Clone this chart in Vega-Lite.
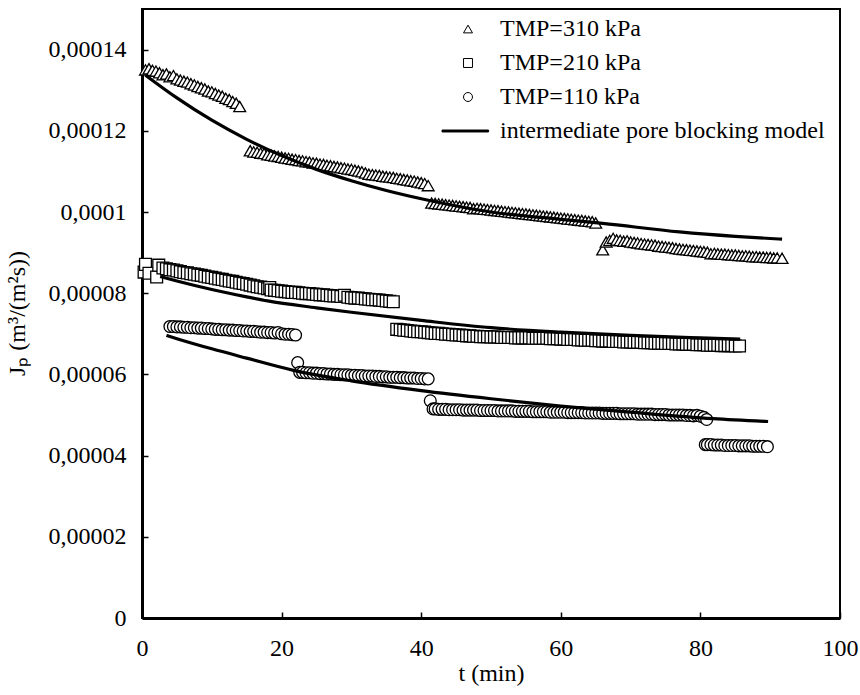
{
"$schema":"https://vega.github.io/schema/vega-lite/v6.json",
"width":698,"height":609,
"autosize":{"type":"none"},
"padding":{"left":142,"top":9,"right":20,"bottom":68},
"background":"white",
"config":{"view":{"stroke":"black","strokeWidth":2},"font":"Liberation Serif"},
"datasets":{
"pts":[
{"s":"310","t":0.5,"J":0.0001350},{"s":"310","t":1.0,"J":0.0001353},{"s":"310","t":1.5,"J":0.0001349},{"s":"310","t":2.0,"J":0.0001347},{"s":"310","t":2.5,"J":0.0001343},{"s":"310","t":3.0,"J":0.0001338},{"s":"310","t":3.5,"J":0.0001340},{"s":"310","t":4.0,"J":0.0001333},{"s":"310","t":4.5,"J":0.0001336},{"s":"310","t":5.0,"J":0.0001328},{"s":"310","t":5.5,"J":0.0001325},{"s":"310","t":6.0,"J":0.0001322},{"s":"310","t":6.5,"J":0.0001320},{"s":"310","t":7.0,"J":0.0001316},{"s":"310","t":7.5,"J":0.0001313},{"s":"310","t":8.0,"J":0.0001309},{"s":"310","t":8.5,"J":0.0001306},{"s":"310","t":9.0,"J":0.0001303},{"s":"310","t":9.5,"J":0.0001298},{"s":"310","t":10.0,"J":0.0001296},{"s":"310","t":10.5,"J":0.0001292},{"s":"310","t":11.0,"J":0.0001288},{"s":"310","t":11.5,"J":0.0001285},{"s":"310","t":12.0,"J":0.0001280},{"s":"310","t":12.5,"J":0.0001277},{"s":"310","t":13.0,"J":0.0001272},{"s":"310","t":13.5,"J":0.0001268},{"s":"310","t":14.0,"J":0.0001260},
{"s":"310","t":15.5,"J":0.0001151},{"s":"310","t":16.0,"J":0.0001148},{"s":"310","t":16.5,"J":0.0001147},{"s":"310","t":17.0,"J":0.0001145},{"s":"310","t":17.5,"J":0.0001144},{"s":"310","t":18.0,"J":0.0001141},{"s":"310","t":18.5,"J":0.0001140},{"s":"310","t":19.0,"J":0.0001138},{"s":"310","t":19.5,"J":0.0001137},{"s":"310","t":20.0,"J":0.0001135},{"s":"310","t":20.5,"J":0.0001133},{"s":"310","t":21.0,"J":0.0001132},{"s":"310","t":21.5,"J":0.0001130},{"s":"310","t":22.0,"J":0.0001129},{"s":"310","t":22.5,"J":0.0001127},{"s":"310","t":23.0,"J":0.0001126},{"s":"310","t":23.5,"J":0.0001124},{"s":"310","t":24.0,"J":0.0001123},{"s":"310","t":24.5,"J":0.0001121},{"s":"310","t":25.0,"J":0.0001120},{"s":"310","t":25.5,"J":0.0001118},{"s":"310","t":26.0,"J":0.0001117},{"s":"310","t":26.5,"J":0.0001115},{"s":"310","t":27.0,"J":0.0001114},{"s":"310","t":27.5,"J":0.0001112},{"s":"310","t":28.0,"J":0.0001111},{"s":"310","t":28.5,"J":0.0001109},{"s":"310","t":29.0,"J":0.0001108},{"s":"310","t":29.5,"J":0.0001106},{"s":"310","t":30.0,"J":0.0001105},{"s":"310","t":30.5,"J":0.0001103},{"s":"310","t":31.0,"J":0.0001101},{"s":"310","t":31.5,"J":0.0001099},{"s":"310","t":32.0,"J":0.0001096},{"s":"310","t":32.5,"J":0.0001093},{"s":"310","t":33.0,"J":0.0001092},{"s":"310","t":33.5,"J":0.0001091},{"s":"310","t":34.0,"J":0.0001090},{"s":"310","t":34.5,"J":0.0001088},{"s":"310","t":35.0,"J":0.0001087},{"s":"310","t":35.5,"J":0.0001086},{"s":"310","t":36.0,"J":0.0001085},{"s":"310","t":36.5,"J":0.0001083},{"s":"310","t":37.0,"J":0.0001082},{"s":"310","t":37.5,"J":0.0001080},{"s":"310","t":38.0,"J":0.0001079},{"s":"310","t":38.5,"J":0.0001077},{"s":"310","t":39.0,"J":0.0001076},{"s":"310","t":39.5,"J":0.0001074},{"s":"310","t":40.0,"J":0.0001072},{"s":"310","t":40.5,"J":0.0001070},{"s":"310","t":41.0,"J":0.0001065},
{"s":"310","t":41.5,"J":0.0001022},{"s":"310","t":42.0,"J":0.0001021},{"s":"310","t":42.5,"J":0.0001020},{"s":"310","t":43.0,"J":0.0001019},{"s":"310","t":43.5,"J":0.0001018},{"s":"310","t":44.0,"J":0.0001017},{"s":"310","t":44.5,"J":0.0001016},{"s":"310","t":45.0,"J":0.0001015},{"s":"310","t":45.5,"J":0.0001014},{"s":"310","t":46.0,"J":0.0001013},{"s":"310","t":46.5,"J":0.0001012},{"s":"310","t":47.0,"J":0.0001011},{"s":"310","t":47.5,"J":0.0001008},{"s":"310","t":48.0,"J":0.0001009},{"s":"310","t":48.5,"J":0.0001008},{"s":"310","t":49.0,"J":0.0001007},{"s":"310","t":49.5,"J":0.0001006},{"s":"310","t":50.0,"J":0.0001005},{"s":"310","t":50.5,"J":0.0001004},{"s":"310","t":51.0,"J":0.0001003},{"s":"310","t":51.5,"J":0.0001002},{"s":"310","t":52.0,"J":0.0001001},{"s":"310","t":52.5,"J":0.0001000},{"s":"310","t":53.0,"J":0.0000999},{"s":"310","t":53.5,"J":0.0000998},{"s":"310","t":54.0,"J":0.0000997},{"s":"310","t":54.5,"J":0.0000996},{"s":"310","t":55.0,"J":0.0000995},{"s":"310","t":55.5,"J":0.0000994},{"s":"310","t":56.0,"J":0.0000993},{"s":"310","t":56.5,"J":0.0000992},{"s":"310","t":57.0,"J":0.0000991},{"s":"310","t":57.5,"J":0.0000990},{"s":"310","t":58.0,"J":0.0000989},{"s":"310","t":58.5,"J":0.0000988},{"s":"310","t":59.0,"J":0.0000987},{"s":"310","t":59.5,"J":0.0000986},{"s":"310","t":60.0,"J":0.0000985},{"s":"310","t":60.5,"J":0.0000984},{"s":"310","t":61.0,"J":0.0000983},{"s":"310","t":61.5,"J":0.0000982},{"s":"310","t":62.0,"J":0.0000981},{"s":"310","t":62.5,"J":0.0000980},{"s":"310","t":63.0,"J":0.0000979},{"s":"310","t":63.5,"J":0.0000978},{"s":"310","t":64.0,"J":0.0000977},{"s":"310","t":64.5,"J":0.0000976},{"s":"310","t":65.0,"J":0.0000973},
{"s":"310","t":66.0,"J":0.0000907},{"s":"310","t":66.5,"J":0.0000926},{"s":"310","t":67.0,"J":0.0000930},{"s":"310","t":67.5,"J":0.0000935},{"s":"310","t":68.0,"J":0.0000931},{"s":"310","t":68.5,"J":0.0000930},{"s":"310","t":69.0,"J":0.0000928},{"s":"310","t":69.5,"J":0.0000929},{"s":"310","t":70.0,"J":0.0000926},{"s":"310","t":70.5,"J":0.0000925},{"s":"310","t":71.0,"J":0.0000924},{"s":"310","t":71.5,"J":0.0000922},{"s":"310","t":72.0,"J":0.0000921},{"s":"310","t":72.5,"J":0.0000920},{"s":"310","t":73.0,"J":0.0000919},{"s":"310","t":73.5,"J":0.0000918},{"s":"310","t":74.0,"J":0.0000916},{"s":"310","t":74.5,"J":0.0000915},{"s":"310","t":75.0,"J":0.0000914},{"s":"310","t":75.5,"J":0.0000913},{"s":"310","t":76.0,"J":0.0000912},{"s":"310","t":76.5,"J":0.0000910},{"s":"310","t":77.0,"J":0.0000909},{"s":"310","t":77.5,"J":0.0000908},{"s":"310","t":78.0,"J":0.0000907},{"s":"310","t":78.5,"J":0.0000906},{"s":"310","t":79.0,"J":0.0000905},{"s":"310","t":79.5,"J":0.0000904},{"s":"310","t":80.0,"J":0.0000903},{"s":"310","t":80.5,"J":0.0000902},{"s":"310","t":81.0,"J":0.0000901},
{"s":"310","t":81.5,"J":0.0000897},{"s":"310","t":82.0,"J":0.0000898},{"s":"310","t":82.5,"J":0.0000897},{"s":"310","t":83.0,"J":0.0000896},{"s":"310","t":83.5,"J":0.0000896},{"s":"310","t":84.0,"J":0.0000895},{"s":"310","t":84.5,"J":0.0000894},{"s":"310","t":85.0,"J":0.0000894},{"s":"310","t":85.5,"J":0.0000893},{"s":"310","t":86.0,"J":0.0000892},{"s":"310","t":86.5,"J":0.0000892},{"s":"310","t":87.0,"J":0.0000891},{"s":"310","t":87.5,"J":0.0000890},{"s":"310","t":88.0,"J":0.0000890},{"s":"310","t":88.5,"J":0.0000889},{"s":"310","t":89.0,"J":0.0000889},{"s":"310","t":89.5,"J":0.0000888},{"s":"310","t":90.0,"J":0.0000888},{"s":"310","t":90.5,"J":0.0000887},{"s":"310","t":91.0,"J":0.0000887},{"s":"310","t":91.7,"J":0.0000886},
{"s":"210","t":0.3,"J":0.0000852},{"s":"210","t":0.5,"J":0.0000871},{"s":"210","t":1.0,"J":0.0000849},{"s":"210","t":2.1,"J":0.0000840},{"s":"210","t":2.4,"J":0.0000869},{"s":"210","t":3.0,"J":0.0000862},{"s":"210","t":3.5,"J":0.0000860},{"s":"210","t":4.0,"J":0.0000858},{"s":"210","t":4.5,"J":0.0000857},{"s":"210","t":5.0,"J":0.0000855},{"s":"210","t":5.5,"J":0.0000853},{"s":"210","t":6.0,"J":0.0000851},{"s":"210","t":6.5,"J":0.0000850},{"s":"210","t":7.0,"J":0.0000848},{"s":"210","t":7.5,"J":0.0000847},{"s":"210","t":8.0,"J":0.0000845},{"s":"210","t":8.5,"J":0.0000844},{"s":"210","t":9.0,"J":0.0000842},{"s":"210","t":9.5,"J":0.0000840},{"s":"210","t":10.0,"J":0.0000839},{"s":"210","t":10.5,"J":0.0000837},{"s":"210","t":11.0,"J":0.0000835},{"s":"210","t":11.5,"J":0.0000834},{"s":"210","t":12.0,"J":0.0000832},{"s":"210","t":12.5,"J":0.0000830},{"s":"210","t":13.0,"J":0.0000829},{"s":"210","t":13.5,"J":0.0000827},{"s":"210","t":14.0,"J":0.0000825},{"s":"210","t":14.5,"J":0.0000824},{"s":"210","t":15.0,"J":0.0000822},{"s":"210","t":15.5,"J":0.0000820},{"s":"210","t":16.0,"J":0.0000818},{"s":"210","t":16.5,"J":0.0000816},{"s":"210","t":17.0,"J":0.0000815},{"s":"210","t":17.5,"J":0.0000813},{"s":"210","t":18.0,"J":0.0000811},{"s":"210","t":18.3,"J":0.0000814},{"s":"210","t":18.5,"J":0.0000808},{"s":"210","t":19.0,"J":0.0000807},{"s":"210","t":19.5,"J":0.0000806},{"s":"210","t":20.0,"J":0.0000805},{"s":"210","t":20.5,"J":0.0000804},{"s":"210","t":21.0,"J":0.0000803},{"s":"210","t":21.5,"J":0.0000802},{"s":"210","t":22.0,"J":0.0000802},{"s":"210","t":22.5,"J":0.0000801},{"s":"210","t":23.0,"J":0.0000800},{"s":"210","t":23.5,"J":0.0000799},{"s":"210","t":24.0,"J":0.0000799},{"s":"210","t":24.5,"J":0.0000798},{"s":"210","t":25.0,"J":0.0000797},{"s":"210","t":25.5,"J":0.0000796},{"s":"210","t":26.0,"J":0.0000796},{"s":"210","t":26.5,"J":0.0000795},{"s":"210","t":27.0,"J":0.0000794},{"s":"210","t":27.5,"J":0.0000793},{"s":"210","t":28.0,"J":0.0000793},{"s":"210","t":28.5,"J":0.0000792},{"s":"210","t":29.0,"J":0.0000795},{"s":"210","t":29.5,"J":0.0000790},{"s":"210","t":30.0,"J":0.0000789},{"s":"210","t":30.5,"J":0.0000788},{"s":"210","t":31.0,"J":0.0000788},{"s":"210","t":31.5,"J":0.0000787},{"s":"210","t":32.0,"J":0.0000786},{"s":"210","t":32.5,"J":0.0000785},{"s":"210","t":33.0,"J":0.0000784},{"s":"210","t":33.5,"J":0.0000784},{"s":"210","t":34.0,"J":0.0000783},{"s":"210","t":34.5,"J":0.0000782},{"s":"210","t":35.0,"J":0.0000781},{"s":"210","t":35.5,"J":0.0000780},{"s":"210","t":36.0,"J":0.0000779},
{"s":"210","t":36.5,"J":0.0000711},{"s":"210","t":37.0,"J":0.0000710},{"s":"210","t":37.5,"J":0.0000709},{"s":"210","t":38.0,"J":0.0000708},{"s":"210","t":38.5,"J":0.0000707},{"s":"210","t":39.0,"J":0.0000706},{"s":"210","t":39.5,"J":0.0000705},{"s":"210","t":40.0,"J":0.0000705},{"s":"210","t":40.5,"J":0.0000704},{"s":"210","t":41.0,"J":0.0000703},{"s":"210","t":41.5,"J":0.0000702},{"s":"210","t":42.0,"J":0.0000701},{"s":"210","t":42.5,"J":0.0000701},{"s":"210","t":43.0,"J":0.0000700},{"s":"210","t":43.5,"J":0.0000699},{"s":"210","t":44.0,"J":0.0000699},{"s":"210","t":44.5,"J":0.0000698},{"s":"210","t":45.0,"J":0.0000697},{"s":"210","t":45.5,"J":0.0000697},{"s":"210","t":46.0,"J":0.0000696},{"s":"210","t":46.5,"J":0.0000695},{"s":"210","t":47.0,"J":0.0000695},{"s":"210","t":47.5,"J":0.0000694},{"s":"210","t":48.0,"J":0.0000694},{"s":"210","t":48.5,"J":0.0000693},{"s":"210","t":49.0,"J":0.0000693},{"s":"210","t":49.5,"J":0.0000693},{"s":"210","t":50.0,"J":0.0000692},{"s":"210","t":50.5,"J":0.0000692},{"s":"210","t":51.0,"J":0.0000692},{"s":"210","t":51.5,"J":0.0000691},{"s":"210","t":52.0,"J":0.0000691},{"s":"210","t":52.5,"J":0.0000691},{"s":"210","t":53.0,"J":0.0000691},{"s":"210","t":53.5,"J":0.0000690},{"s":"210","t":54.0,"J":0.0000690},{"s":"210","t":54.5,"J":0.0000690},{"s":"210","t":55.0,"J":0.0000690},{"s":"210","t":55.5,"J":0.0000690},{"s":"210","t":56.0,"J":0.0000689},{"s":"210","t":56.5,"J":0.0000689},{"s":"210","t":57.0,"J":0.0000689},{"s":"210","t":57.5,"J":0.0000689},{"s":"210","t":58.0,"J":0.0000689},{"s":"210","t":58.5,"J":0.0000688},{"s":"210","t":59.0,"J":0.0000688},{"s":"210","t":59.5,"J":0.0000688},{"s":"210","t":60.0,"J":0.0000687},{"s":"210","t":60.5,"J":0.0000687},{"s":"210","t":61.0,"J":0.0000686},{"s":"210","t":61.5,"J":0.0000686},{"s":"210","t":62.0,"J":0.0000686},{"s":"210","t":62.5,"J":0.0000685},{"s":"210","t":63.0,"J":0.0000685},{"s":"210","t":63.5,"J":0.0000684},{"s":"210","t":64.0,"J":0.0000684},{"s":"210","t":64.5,"J":0.0000684},{"s":"210","t":65.0,"J":0.0000683},{"s":"210","t":65.5,"J":0.0000683},{"s":"210","t":66.0,"J":0.0000682},{"s":"210","t":66.5,"J":0.0000682},{"s":"210","t":67.0,"J":0.0000682},{"s":"210","t":67.5,"J":0.0000681},{"s":"210","t":68.0,"J":0.0000681},{"s":"210","t":68.5,"J":0.0000681},{"s":"210","t":69.0,"J":0.0000680},{"s":"210","t":69.5,"J":0.0000680},{"s":"210","t":70.0,"J":0.0000680},{"s":"210","t":70.5,"J":0.0000679},{"s":"210","t":71.0,"J":0.0000679},{"s":"210","t":71.5,"J":0.0000679},{"s":"210","t":72.0,"J":0.0000678},{"s":"210","t":72.5,"J":0.0000678},{"s":"210","t":73.0,"J":0.0000678},{"s":"210","t":73.5,"J":0.0000677},{"s":"210","t":74.0,"J":0.0000677},{"s":"210","t":74.5,"J":0.0000677},{"s":"210","t":75.0,"J":0.0000676},{"s":"210","t":75.5,"J":0.0000676},{"s":"210","t":76.0,"J":0.0000676},{"s":"210","t":76.5,"J":0.0000675},{"s":"210","t":77.0,"J":0.0000675},{"s":"210","t":77.5,"J":0.0000675},{"s":"210","t":78.0,"J":0.0000674},{"s":"210","t":78.5,"J":0.0000674},{"s":"210","t":79.0,"J":0.0000674},{"s":"210","t":79.5,"J":0.0000673},{"s":"210","t":80.0,"J":0.0000673},{"s":"210","t":80.5,"J":0.0000673},{"s":"210","t":81.0,"J":0.0000672},{"s":"210","t":81.5,"J":0.0000672},{"s":"210","t":82.0,"J":0.0000672},{"s":"210","t":82.5,"J":0.0000672},{"s":"210","t":83.0,"J":0.0000671},{"s":"210","t":83.5,"J":0.0000671},{"s":"210","t":84.0,"J":0.0000671},{"s":"210","t":84.5,"J":0.0000671},{"s":"210","t":85.0,"J":0.0000670},{"s":"210","t":85.6,"J":0.0000670},
{"s":"110","t":4.0,"J":0.0000718},{"s":"110","t":4.5,"J":0.0000718},{"s":"110","t":5.0,"J":0.0000717},{"s":"110","t":5.5,"J":0.0000717},{"s":"110","t":6.0,"J":0.0000716},{"s":"110","t":6.5,"J":0.0000716},{"s":"110","t":7.0,"J":0.0000715},{"s":"110","t":7.5,"J":0.0000715},{"s":"110","t":8.0,"J":0.0000714},{"s":"110","t":8.5,"J":0.0000714},{"s":"110","t":9.0,"J":0.0000713},{"s":"110","t":9.5,"J":0.0000713},{"s":"110","t":10.0,"J":0.0000712},{"s":"110","t":10.5,"J":0.0000711},{"s":"110","t":11.0,"J":0.0000711},{"s":"110","t":11.5,"J":0.0000710},{"s":"110","t":12.0,"J":0.0000710},{"s":"110","t":12.5,"J":0.0000709},{"s":"110","t":13.0,"J":0.0000709},{"s":"110","t":13.5,"J":0.0000708},{"s":"110","t":14.0,"J":0.0000708},{"s":"110","t":14.5,"J":0.0000707},{"s":"110","t":15.0,"J":0.0000707},{"s":"110","t":15.5,"J":0.0000706},{"s":"110","t":16.0,"J":0.0000706},{"s":"110","t":16.5,"J":0.0000705},{"s":"110","t":17.0,"J":0.0000704},{"s":"110","t":17.5,"J":0.0000704},{"s":"110","t":18.0,"J":0.0000703},{"s":"110","t":18.5,"J":0.0000703},{"s":"110","t":19.0,"J":0.0000702},{"s":"110","t":19.5,"J":0.0000703},{"s":"110","t":20.0,"J":0.0000700},{"s":"110","t":20.5,"J":0.0000699},{"s":"110","t":21.0,"J":0.0000699},{"s":"110","t":21.5,"J":0.0000698},{"s":"110","t":22.0,"J":0.0000697},
{"s":"110","t":22.3,"J":0.0000629},{"s":"110","t":22.6,"J":0.0000605},{"s":"110","t":23.0,"J":0.0000605},{"s":"110","t":23.5,"J":0.0000604},{"s":"110","t":24.0,"J":0.0000604},{"s":"110","t":24.5,"J":0.0000603},{"s":"110","t":25.0,"J":0.0000603},{"s":"110","t":25.5,"J":0.0000602},{"s":"110","t":26.0,"J":0.0000602},{"s":"110","t":26.5,"J":0.0000601},{"s":"110","t":27.0,"J":0.0000601},{"s":"110","t":27.5,"J":0.0000600},{"s":"110","t":28.0,"J":0.0000600},{"s":"110","t":28.5,"J":0.0000599},{"s":"110","t":29.0,"J":0.0000599},{"s":"110","t":29.5,"J":0.0000599},{"s":"110","t":30.0,"J":0.0000598},{"s":"110","t":30.5,"J":0.0000598},{"s":"110","t":31.0,"J":0.0000597},{"s":"110","t":31.5,"J":0.0000597},{"s":"110","t":32.0,"J":0.0000596},{"s":"110","t":32.5,"J":0.0000596},{"s":"110","t":33.0,"J":0.0000596},{"s":"110","t":33.5,"J":0.0000595},{"s":"110","t":34.0,"J":0.0000595},{"s":"110","t":34.5,"J":0.0000594},{"s":"110","t":35.0,"J":0.0000594},{"s":"110","t":35.5,"J":0.0000593},{"s":"110","t":36.0,"J":0.0000593},{"s":"110","t":36.5,"J":0.0000593},{"s":"110","t":37.0,"J":0.0000592},{"s":"110","t":37.5,"J":0.0000592},{"s":"110","t":38.0,"J":0.0000591},{"s":"110","t":38.5,"J":0.0000591},{"s":"110","t":39.0,"J":0.0000591},{"s":"110","t":39.5,"J":0.0000590},{"s":"110","t":40.0,"J":0.0000590},{"s":"110","t":40.5,"J":0.0000589},{"s":"110","t":41.0,"J":0.0000589},
{"s":"110","t":41.3,"J":0.0000535},{"s":"110","t":41.7,"J":0.0000515},{"s":"110","t":42.0,"J":0.0000515},{"s":"110","t":42.5,"J":0.0000514},{"s":"110","t":43.0,"J":0.0000514},{"s":"110","t":43.5,"J":0.0000514},{"s":"110","t":44.0,"J":0.0000513},{"s":"110","t":44.5,"J":0.0000513},{"s":"110","t":45.0,"J":0.0000513},{"s":"110","t":45.5,"J":0.0000513},{"s":"110","t":46.0,"J":0.0000512},{"s":"110","t":46.5,"J":0.0000512},{"s":"110","t":47.0,"J":0.0000512},{"s":"110","t":47.5,"J":0.0000512},{"s":"110","t":48.0,"J":0.0000512},{"s":"110","t":48.5,"J":0.0000511},{"s":"110","t":49.0,"J":0.0000511},{"s":"110","t":49.5,"J":0.0000511},{"s":"110","t":50.0,"J":0.0000511},{"s":"110","t":50.5,"J":0.0000511},{"s":"110","t":51.0,"J":0.0000510},{"s":"110","t":51.5,"J":0.0000510},{"s":"110","t":52.0,"J":0.0000510},{"s":"110","t":52.5,"J":0.0000510},{"s":"110","t":53.0,"J":0.0000510},{"s":"110","t":53.5,"J":0.0000509},{"s":"110","t":54.0,"J":0.0000509},{"s":"110","t":54.5,"J":0.0000509},{"s":"110","t":55.0,"J":0.0000509},{"s":"110","t":55.5,"J":0.0000509},{"s":"110","t":56.0,"J":0.0000508},{"s":"110","t":56.5,"J":0.0000508},{"s":"110","t":57.0,"J":0.0000508},{"s":"110","t":57.5,"J":0.0000508},{"s":"110","t":58.0,"J":0.0000508},{"s":"110","t":58.5,"J":0.0000507},{"s":"110","t":59.0,"J":0.0000507},{"s":"110","t":59.5,"J":0.0000507},{"s":"110","t":60.0,"J":0.0000507},{"s":"110","t":60.5,"J":0.0000507},{"s":"110","t":61.0,"J":0.0000506},{"s":"110","t":61.5,"J":0.0000506},{"s":"110","t":62.0,"J":0.0000506},{"s":"110","t":62.5,"J":0.0000506},{"s":"110","t":63.0,"J":0.0000506},{"s":"110","t":63.5,"J":0.0000505},{"s":"110","t":64.0,"J":0.0000505},{"s":"110","t":64.5,"J":0.0000505},{"s":"110","t":65.0,"J":0.0000505},{"s":"110","t":65.5,"J":0.0000505},{"s":"110","t":66.0,"J":0.0000504},{"s":"110","t":66.5,"J":0.0000504},{"s":"110","t":67.0,"J":0.0000504},{"s":"110","t":67.5,"J":0.0000504},{"s":"110","t":68.0,"J":0.0000504},{"s":"110","t":68.5,"J":0.0000503},{"s":"110","t":69.0,"J":0.0000503},{"s":"110","t":69.5,"J":0.0000503},{"s":"110","t":70.0,"J":0.0000503},{"s":"110","t":70.5,"J":0.0000503},{"s":"110","t":71.0,"J":0.0000502},{"s":"110","t":71.5,"J":0.0000502},{"s":"110","t":72.0,"J":0.0000502},{"s":"110","t":72.5,"J":0.0000502},{"s":"110","t":73.0,"J":0.0000502},{"s":"110","t":73.5,"J":0.0000501},{"s":"110","t":74.0,"J":0.0000501},{"s":"110","t":74.5,"J":0.0000501},{"s":"110","t":75.0,"J":0.0000501},{"s":"110","t":75.5,"J":0.0000500},{"s":"110","t":76.0,"J":0.0000500},{"s":"110","t":76.5,"J":0.0000500},{"s":"110","t":77.0,"J":0.0000500},{"s":"110","t":77.5,"J":0.0000500},{"s":"110","t":78.0,"J":0.0000499},{"s":"110","t":78.5,"J":0.0000499},{"s":"110","t":79.0,"J":0.0000498},{"s":"110","t":79.5,"J":0.0000499},{"s":"110","t":80.0,"J":0.0000497},{"s":"110","t":80.5,"J":0.0000494},{"s":"110","t":80.9,"J":0.0000489},
{"s":"110","t":80.7,"J":0.0000427},{"s":"110","t":81.0,"J":0.0000427},{"s":"110","t":81.5,"J":0.0000427},{"s":"110","t":82.0,"J":0.0000426},{"s":"110","t":82.5,"J":0.0000426},{"s":"110","t":83.0,"J":0.0000426},{"s":"110","t":83.5,"J":0.0000425},{"s":"110","t":84.0,"J":0.0000425},{"s":"110","t":84.5,"J":0.0000425},{"s":"110","t":85.0,"J":0.0000425},{"s":"110","t":85.5,"J":0.0000424},{"s":"110","t":86.0,"J":0.0000424},{"s":"110","t":86.5,"J":0.0000424},{"s":"110","t":87.0,"J":0.0000424},{"s":"110","t":87.5,"J":0.0000423},{"s":"110","t":88.0,"J":0.0000423},{"s":"110","t":88.5,"J":0.0000423},{"s":"110","t":89.0,"J":0.0000423},{"s":"110","t":89.6,"J":0.0000422}
],
"model":[
{"s":"310","t":0.5,"J":0.0001337},{"s":"310","t":5,"J":0.0001281},{"s":"310","t":10,"J":0.0001226},{"s":"310","t":15,"J":0.0001179},{"s":"310","t":20,"J":0.0001139},{"s":"310","t":25,"J":0.0001105},{"s":"310","t":30,"J":0.0001077},{"s":"310","t":35,"J":0.0001053},{"s":"310","t":41,"J":0.0001029},{"s":"310","t":50,"J":0.0001000},{"s":"310","t":60,"J":0.0000982},{"s":"310","t":66,"J":0.0000972},{"s":"310","t":77,"J":0.0000951},{"s":"310","t":85,"J":0.0000940},{"s":"310","t":91.7,"J":0.0000933},
{"s":"210","t":2.6,"J":0.0000841},{"s":"210","t":5,"J":0.0000830},{"s":"210","t":10,"J":0.0000809},{"s":"210","t":15,"J":0.0000791},{"s":"210","t":18,"J":0.0000781},{"s":"210","t":25,"J":0.0000764},{"s":"210","t":30,"J":0.0000753},{"s":"210","t":40,"J":0.0000733},{"s":"210","t":50,"J":0.0000715},{"s":"210","t":60,"J":0.0000704},{"s":"210","t":70,"J":0.0000696},{"s":"210","t":80,"J":0.0000690},{"s":"210","t":85.7,"J":0.0000687},
{"s":"110","t":3.5,"J":0.0000696},{"s":"110","t":5,"J":0.0000688},{"s":"110","t":10,"J":0.0000663},{"s":"110","t":15,"J":0.0000640},{"s":"110","t":21.7,"J":0.0000610},{"s":"110","t":30,"J":0.0000584},{"s":"110","t":40,"J":0.0000560},{"s":"110","t":50,"J":0.0000540},{"s":"110","t":60,"J":0.0000522},{"s":"110","t":70,"J":0.0000507},{"s":"110","t":81.8,"J":0.0000491},{"s":"110","t":89.7,"J":0.0000484}
]
},
"layer":[
{
"data":{"name":"pts"},
"mark":{"type":"point","filled":true,"strokeWidth":1.3,"opacity":1,"size":140},
"encoding":{
"x":{"field":"t","type":"quantitative","scale":{"domain":[0,100],"nice":false,"zero":false},
 "axis":{"values":[0,20,40,60,80,100],"grid":false,"domainColor":"black","domainWidth":3,"tickColor":"black","tickWidth":1.5,"tickSize":-6,"labelFont":"Liberation Serif","labelFontSize":24,"labelColor":"black","labelPadding":24,"labelFlush":false,"title":"t (min)","titleFont":"Liberation Serif","titleFontSize":24,"titleFontWeight":"normal","titleColor":"black","titleBaseline":"alphabetic","titleY":62}},
"y":{"field":"J","type":"quantitative","scale":{"domain":[0,0.00015],"nice":false,"zero":true},
 "axis":{"values":[0,0.00002,0.00004,0.00006,0.00008,0.0001,0.00012,0.00014],"labelExpr":"replace(format(datum.value,'~f'),'.',',')","grid":false,"domainColor":"black","domainWidth":3,"tickColor":"black","tickWidth":1.5,"tickSize":-6,"labelFont":"Liberation Serif","labelFontSize":24,"labelColor":"black","labelPadding":22,"labelFlush":false,"title":"Jₚ (m³/(m²s))","titleFont":"Liberation Serif","titleFontSize":24,"titleFontWeight":"normal","titleColor":"black","titleAngle":270,"titleBaseline":"middle","titleAlign":"center","titleX":-125,"titleY":304}},
"stroke":{"field":"s","type":"nominal","scale":{"domain":["310","210","110","m"],"range":["black","black","black","black"]},
 "legend":{"title":null,"orient":"none","legendX":314,"legendY":8,"padding":0,"symbolSize":80,"symbolStrokeWidth":1,"labelFont":"Liberation Serif","labelFontSize":24,"labelColor":"black","labelOffset":20,"rowPadding":10,"labelLimit":1000,"labelExpr":"datum.label == 'm' ? 'intermediate pore blocking model' : 'TMP=' + datum.label + ' kPa'"}},
"shape":{"field":"s","type":"nominal","scale":{"domain":["310","210","110","m"],"range":["triangle-up","square","circle","M-5.8,-0.22H4.6V0.22H-5.8Z"]},
 "legend":{"title":null,"orient":"none","legendX":314,"legendY":8,"padding":0,"symbolSize":80,"symbolStrokeWidth":1,"labelFont":"Liberation Serif","labelFontSize":24,"labelColor":"black","labelOffset":20,"rowPadding":10,"labelLimit":1000,"labelExpr":"datum.label == 'm' ? 'intermediate pore blocking model' : 'TMP=' + datum.label + ' kPa'"}},
"fill":{"field":"s","type":"nominal","scale":{"domain":["310","210","110","m"],"range":["white","white","white","black"]},
 "legend":{"title":null,"orient":"none","legendX":314,"legendY":8,"padding":0,"symbolSize":80,"symbolStrokeWidth":1,"labelFont":"Liberation Serif","labelFontSize":24,"labelColor":"black","labelOffset":20,"rowPadding":10,"labelLimit":1000,"labelExpr":"datum.label == 'm' ? 'intermediate pore blocking model' : 'TMP=' + datum.label + ' kPa'"}}
}
},
{
"data":{"name":"model"},
"mark":{"type":"line","color":"black","strokeWidth":3.2,"interpolate":"monotone"},
"encoding":{
"x":{"field":"t","type":"quantitative"},
"y":{"field":"J","type":"quantitative"},
"detail":{"field":"s","type":"nominal"}
}
}
]
}
